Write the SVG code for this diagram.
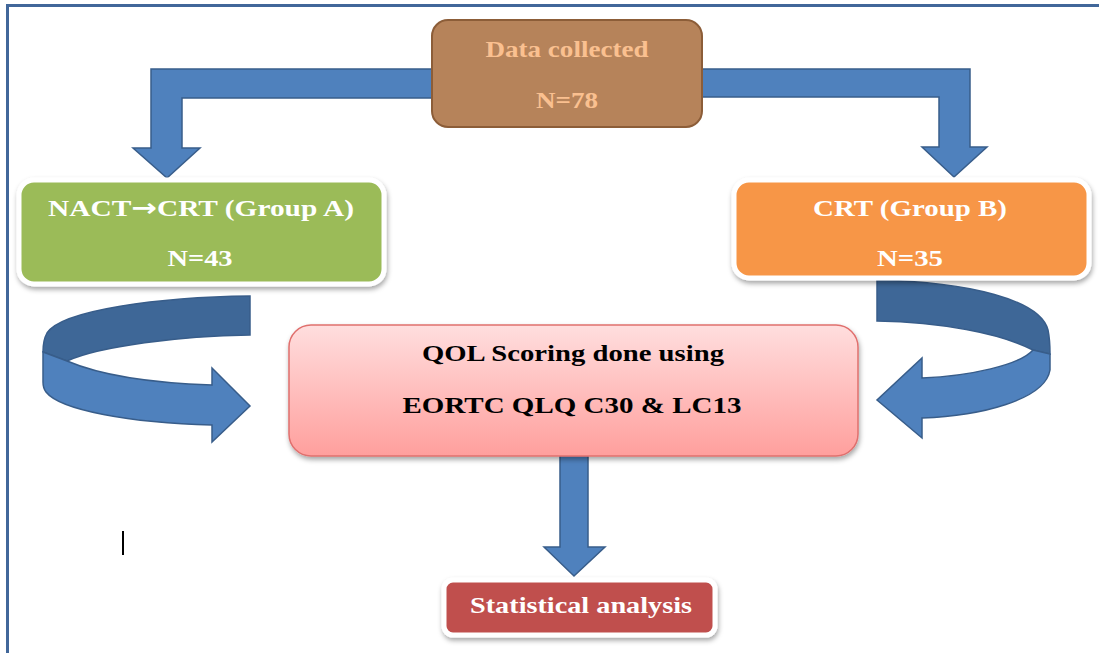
<svg xmlns="http://www.w3.org/2000/svg" width="1099" height="653" viewBox="0 0 1099 653">
  <defs>
    <linearGradient id="pinkGrad" x1="0" y1="0" x2="0" y2="1">
      <stop offset="0" stop-color="#ffdede"/>
      <stop offset="1" stop-color="#ff9f9d"/>
    </linearGradient>
    <filter id="shadow" x="-10%" y="-20%" width="120%" height="150%">
      <feDropShadow dx="1" dy="3" stdDeviation="2.5" flood-color="#000" flood-opacity="0.35"/>
    </filter>
    <style>
      .lbl { font-family: "Liberation Serif", "Times New Roman", serif; font-weight: bold; font-size: 23px; text-anchor: middle; }
      .sym { font-family: "DejaVu Sans", sans-serif; font-weight: bold; font-size: 24px; }
      .white { fill: #ffffff; }
      .peach { fill: #fac090; }
      .dark { fill: #000000; }
      .arrow { fill: #4f81bd; stroke: #385d8a; stroke-width: 1.5; stroke-linejoin: miter; }
      .arrowBack { fill: #3e6797; stroke: #385d8a; stroke-width: 1.5; }
      .glowBox { stroke: #ffffff; stroke-width: 5; filter: url(#shadow); }
    </style>
  </defs>

  <rect x="0" y="0" width="1099" height="653" fill="#ffffff"/>
  <!-- frame -->
  <rect x="7.5" y="5.5" width="1110" height="670" fill="none" stroke="#41679a" stroke-width="3"/>

  <!-- connectors -->
  <g id="connectors">
    <path class="arrow" d="M440,69 L151,69 L151,148 L133,148 L167,178 L200,148 L182,148 L182,98 L440,98 Z"/>
    <path class="arrow" d="M695,69 L970,69 L970,147 L987,147 L954,177 L922,147 L939,147 L939,97 L695,97 Z"/>
    <path class="arrow" d="M560,452 L588,452 L588,547 L605,547 L574,576 L544,547 L560,547 Z"/>
    <!-- left curved arrow -->
    <path class="arrowBack" d="M250,296 C160,297 62,310 47,333 Q43,340 43,352 L67,361 C100,346 180,336 250,335 Z"/>
    <path class="arrow" d="M43,352 L67,361 C100,375 150,383 212,385 L212,368 L250,406 L212,442 L212,425 C130,423 60,410 46,392 Q43,388 43,382 Z"/>
    <!-- right curved arrow -->
    <path class="arrowBack" d="M877,280 C970,282 1040,300 1048,330 Q1050,340 1050,354 L1033,350 C1000,333 940,322 877,321 Z"/>
    <path class="arrow" d="M1033,350 L1050,354 L1050,370 C1045,400 980,416 922,418 L922,438 L877,400 L922,358 L922,378 C970,376 1020,365 1033,350 Z"/>
  </g>

  <g id="node-data">
    <rect x="432" y="20" width="270" height="107" rx="16" fill="#b6835a" stroke="#8c5d38" stroke-width="2"/>
    <text class="lbl peach" x="567" y="57" textLength="163" lengthAdjust="spacingAndGlyphs">Data collected</text>
    <text class="lbl peach" x="567" y="108" textLength="62" lengthAdjust="spacingAndGlyphs">N=78</text>
  </g>

  <g id="node-groupA">
    <rect class="glowBox" x="19" y="180" width="365" height="104" rx="15" fill="#9bbb59"/>
    <text class="lbl white" x="201" y="216" textLength="306" lengthAdjust="spacingAndGlyphs">NACT<tspan class="sym">→</tspan>CRT (Group A)</text>
    <text class="lbl white" x="200" y="266" textLength="65" lengthAdjust="spacingAndGlyphs">N=43</text>
  </g>

  <g id="node-groupB">
    <rect class="glowBox" x="734" y="180" width="355" height="98" rx="15" fill="#f79646"/>
    <text class="lbl white" x="910" y="216" textLength="194" lengthAdjust="spacingAndGlyphs">CRT (Group B)</text>
    <text class="lbl white" x="910" y="266" textLength="66" lengthAdjust="spacingAndGlyphs">N=35</text>
  </g>

  <g id="node-qol">
    <rect x="289" y="325" width="569" height="131" rx="22" fill="url(#pinkGrad)" stroke="#e0706e" stroke-width="1.5" filter="url(#shadow)"/>
    <text class="lbl dark" x="573" y="361" textLength="302" lengthAdjust="spacingAndGlyphs">QOL Scoring done using</text>
    <text class="lbl dark" x="572" y="413" textLength="339" lengthAdjust="spacingAndGlyphs">EORTC QLQ C30 &amp; LC13</text>
  </g>

  <g id="node-stat">
    <rect class="glowBox" x="444" y="580" width="271" height="55" rx="9" fill="#c0504d"/>
    <text class="lbl white" x="581" y="613" textLength="222" lengthAdjust="spacingAndGlyphs">Statistical analysis</text>
  </g>

  <!-- cursor mark -->
  <line x1="123" y1="531" x2="123" y2="555" stroke="#000000" stroke-width="2"/>
</svg>
